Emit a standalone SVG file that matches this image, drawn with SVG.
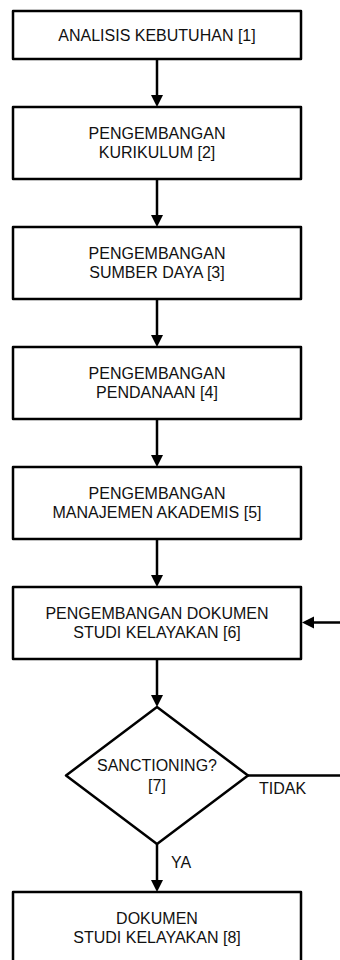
<svg xmlns="http://www.w3.org/2000/svg" width="340" height="960" viewBox="0 0 340 960">
<style>
.box{fill:#fff;stroke:#000;stroke-width:2.5;stroke-linejoin:round}
.t{font-family:"Liberation Sans",Arial,sans-serif;font-size:16px;fill:#111;text-anchor:middle}
.l{font-family:"Liberation Sans",Arial,sans-serif;font-size:16px;fill:#111}
.c{fill:none;stroke:#000;stroke-width:2.5}
</style>
<defs>
<marker id="ah" markerUnits="userSpaceOnUse" markerWidth="12" markerHeight="12" refX="0" refY="6" orient="auto" overflow="visible">
<path d="M0,0 L12,6 L0,12 Z" fill="#000"/>
</marker>
</defs>
<rect width="340" height="960" fill="#fff"/>
<g id="connectors">
<path class="c" d="M157,59 V95" marker-end="url(#ah)"/>
<path class="c" d="M157,179 V215" marker-end="url(#ah)"/>
<path class="c" d="M157,299 V335" marker-end="url(#ah)"/>
<path class="c" d="M157,419 V455" marker-end="url(#ah)"/>
<path class="c" d="M157,539 V575" marker-end="url(#ah)"/>
<path class="c" d="M157,659 V695" marker-end="url(#ah)"/>
<path class="c" d="M157,844 V880" marker-end="url(#ah)"/>
<path class="c" d="M248,775.5 H345 V622.5 H314" marker-end="url(#ah)"/>
<text class="l" x="259" y="794">TIDAK</text>
<text class="l" x="171" y="868">YA</text>
</g>
<g id="n1">
<rect class="box" x="13" y="11" width="288" height="48"/>
<text class="t" x="157" y="41">ANALISIS KEBUTUHAN [1]</text>
</g>
<g id="n2">
<rect class="box" x="13" y="107" width="288" height="72"/>
<text class="t" x="157" y="138.5">PENGEMBANGAN</text>
<text class="t" x="157" y="158">KURIKULUM [2]</text>
</g>
<g id="n3">
<rect class="box" x="13" y="227" width="288" height="72"/>
<text class="t" x="157" y="258.5">PENGEMBANGAN</text>
<text class="t" x="157" y="278">SUMBER DAYA [3]</text>
</g>
<g id="n4">
<rect class="box" x="13" y="347" width="288" height="72"/>
<text class="t" x="157" y="378.5">PENGEMBANGAN</text>
<text class="t" x="157" y="398">PENDANAAN [4]</text>
</g>
<g id="n5">
<rect class="box" x="13" y="467" width="288" height="72"/>
<text class="t" x="157" y="498.5">PENGEMBANGAN</text>
<text class="t" x="157" y="518">MANAJEMEN AKADEMIS [5]</text>
</g>
<g id="n6">
<rect class="box" x="13" y="587" width="288" height="72"/>
<text class="t" x="157" y="618.5">PENGEMBANGAN DOKUMEN</text>
<text class="t" x="157" y="638">STUDI KELAYAKAN [6]</text>
</g>
<g id="n7">
<polygon class="box" points="157,707 248,775.5 157,844 66,775.5"/>
<text class="t" x="157" y="771">SANCTIONING?</text>
<text class="t" x="157" y="791">[7]</text>
</g>
<g id="n8">
<rect class="box" x="13" y="892" width="288" height="72"/>
<text class="t" x="157" y="924">DOKUMEN</text>
<text class="t" x="157" y="943">STUDI KELAYAKAN [8]</text>
</g>
</svg>
